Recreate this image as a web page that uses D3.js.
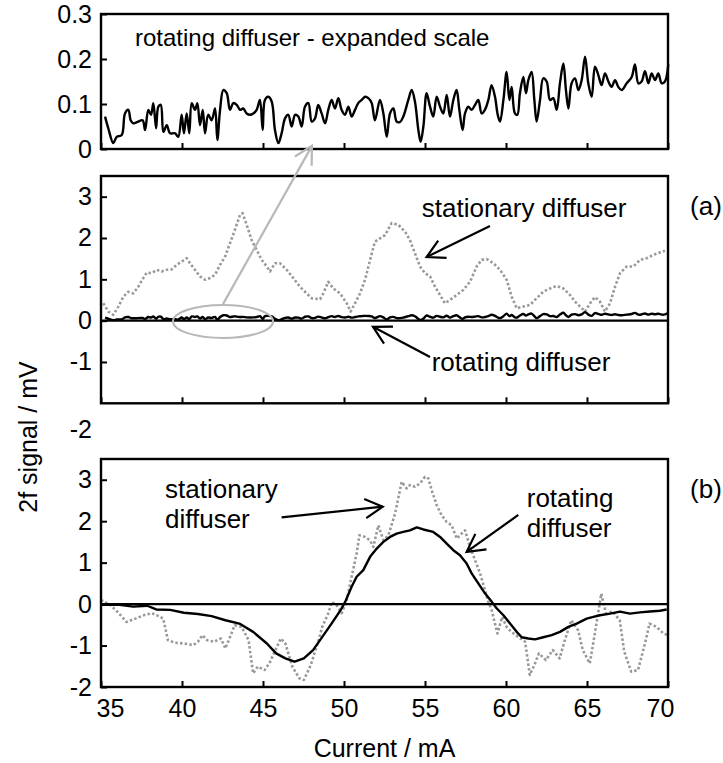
<!DOCTYPE html>
<html>
<head>
<meta charset="utf-8">
<script src="https://cdn.jsdelivr.net/npm/d3@7"></script>
<style>
body { margin:0; background:#fff; }
</style>
</head>
<body>
<div id="chart"></div>
<script>
// rotating diffuser (expanded scale, top panel; also the black trace in panel a)
var rotI = [35.25,35.45,35.76,35.97,36.28,36.48,36.69,36.83,36.99,37.30,37.57,37.72,37.92,38.09,38.23,38.40,38.54,38.69,38.85,39.06,
  39.26,39.57,39.77,39.98,40.12,40.29,40.45,40.60,40.80,40.95,41.11,41.28,41.42,41.62,41.83,42.04,42.18,42.35,42.55,42.76,
  42.96,43.17,43.38,43.58,43.78,43.99,44.20,44.40,44.61,44.81,44.98,45.12,45.33,45.54,45.74,45.95,46.15,46.36,46.56,46.77,
  46.98,47.18,47.39,47.59,47.80,48.01,48.21,48.41,48.62,48.83,49.03,49.24,49.44,49.65,49.85,50.06,50.27,50.47,50.68,50.88,
  51.09,51.30,51.50,51.71,51.91,52.22,52.43,52.64,52.84,53.05,53.25,53.46,53.66,53.97,54.18,54.38,54.59,54.73,54.90,55.10,
  55.31,55.51,55.72,55.93,56.13,56.34,56.54,56.75,56.95,57.12,57.32,57.47,57.67,57.88,58.09,58.29,58.50,58.70,58.91,59.11,
  59.32,59.49,59.63,59.84,60.04,60.21,60.35,60.55,60.70,60.86,61.07,61.23,61.38,61.58,61.75,61.89,62.10,62.30,62.51,62.72,
  62.92,63.13,63.33,63.54,63.70,63.85,64.05,64.26,64.47,64.67,64.88,65.08,65.29,65.49,65.70,65.90,66.11,66.32,66.52,66.73,
  66.93,67.14,67.45,67.76,67.96,68.17,68.37,68.58,68.79,68.99,69.20,69.40,69.61,69.81,70.02];
var rotV = [0.072,0.046,0.013,0.027,0.031,0.079,0.087,0.064,0.057,0.061,0.064,0.042,0.087,0.076,0.102,0.046,0.094,0.098,0.038,0.053,
  0.035,0.035,0.027,0.076,0.035,0.079,0.035,0.102,0.087,0.102,0.053,0.087,0.035,0.076,0.064,0.090,0.020,0.087,0.131,0.124,
  0.087,0.102,0.098,0.087,0.090,0.079,0.076,0.079,0.087,0.109,0.042,0.109,0.116,0.105,0.042,0.013,0.035,0.068,0.076,0.050,
  0.076,0.072,0.050,0.094,0.102,0.061,0.068,0.098,0.079,0.057,0.087,0.109,0.090,0.113,0.087,0.076,0.094,0.072,0.087,0.102,
  0.109,0.116,0.113,0.102,0.064,0.109,0.079,0.027,0.079,0.090,0.061,0.060,0.072,0.109,0.131,0.105,0.042,0.016,0.050,0.124,
  0.094,0.072,0.116,0.094,0.079,0.120,0.072,0.109,0.131,0.087,0.042,0.079,0.094,0.087,0.098,0.109,0.079,0.087,0.109,0.142,
  0.116,0.076,0.061,0.109,0.171,0.109,0.138,0.079,0.076,0.124,0.160,0.124,0.153,0.171,0.109,0.061,0.109,0.157,0.150,0.109,
  0.113,0.087,0.146,0.190,0.131,0.090,0.146,0.157,0.131,0.153,0.205,0.146,0.116,0.183,0.164,0.142,0.168,0.150,0.138,0.153,
  0.138,0.131,0.146,0.160,0.188,0.146,0.150,0.173,0.146,0.168,0.153,0.168,0.146,0.150,0.188];

// (a) stationary diffuser
var statAI = [35.14,35.45,35.76,36.07,36.38,36.69,36.99,37.30,37.61,37.82,38.13,38.44,38.75,39.06,39.36,39.67,39.98,40.29,40.49,40.80,
  41.11,41.42,41.73,42.04,42.35,42.66,42.96,43.27,43.58,43.74,43.99,44.30,44.61,44.92,45.23,45.43,45.74,46.05,46.46,46.87,
  47.28,47.69,48.01,48.52,48.72,49.03,49.34,49.75,50.17,50.41,50.68,50.99,51.30,51.61,51.91,52.22,52.53,52.94,53.35,53.77,
  54.07,54.38,54.69,55.00,55.31,55.62,55.93,56.23,56.54,56.95,57.36,57.78,58.19,58.50,58.81,59.22,59.63,60.04,60.35,60.66,
  61.07,61.48,61.89,62.30,62.72,63.13,63.54,63.95,64.26,64.57,64.88,65.19,65.49,65.80,66.11,66.42,66.73,67.04,67.45,67.86,
  68.27,68.68,69.09,69.50,69.81];
var statAV = [0.42,0.22,0.14,0.34,0.58,0.70,0.66,0.82,1.03,1.16,1.15,1.23,1.19,1.23,1.24,1.35,1.43,1.51,1.39,1.23,
  1.07,0.99,1.03,1.11,1.35,1.55,1.87,2.20,2.56,2.60,2.32,1.95,1.71,1.47,1.31,1.19,1.39,1.39,1.23,1.03,
  0.82,0.66,0.54,0.52,0.66,0.94,0.78,0.66,0.42,0.22,0.42,0.66,0.99,1.47,1.91,1.99,2.07,2.36,2.32,2.15,
  1.95,1.63,1.31,1.15,1.07,0.82,0.62,0.42,0.50,0.62,0.74,0.94,1.31,1.47,1.49,1.39,1.23,0.99,0.58,0.30,
  0.34,0.38,0.54,0.70,0.78,0.84,0.78,0.62,0.46,0.34,0.22,0.42,0.57,0.46,0.22,0.42,0.82,1.15,1.31,1.31,
  1.47,1.51,1.59,1.65,1.69];

// (b) rotating diffuser
var rotBI = [35.00,36.14,36.99,37.85,38.41,39.27,40.12,40.98,41.83,42.68,43.54,44.39,45.24,45.81,46.38,46.95,47.52,48.09,48.66,49.23,
  49.80,50.08,50.47,50.78,51.19,51.61,52.02,52.43,52.84,53.25,53.66,54.07,54.49,54.90,55.51,55.93,56.34,56.75,57.16,57.57,
  57.88,58.29,58.70,59.11,59.42,59.84,60.25,60.66,60.97,61.38,61.79,62.30,62.82,63.33,63.85,64.36,64.98,65.39,65.80,66.42,
  67.04,67.65,68.27,68.89,69.50,69.92];
var rotBV = [-0.02,-0.02,-0.06,-0.04,-0.13,-0.14,-0.21,-0.24,-0.29,-0.39,-0.47,-0.67,-0.95,-1.19,-1.31,-1.39,-1.31,-1.11,-0.79,-0.47,
  -0.14,0.06,0.42,0.66,0.82,1.14,1.34,1.50,1.62,1.70,1.74,1.78,1.85,1.80,1.74,1.62,1.46,1.30,1.18,0.98,
  0.74,0.50,0.26,0.06,-0.10,-0.27,-0.47,-0.67,-0.80,-0.83,-0.85,-0.80,-0.75,-0.67,-0.55,-0.47,-0.35,-0.31,-0.27,-0.23,
  -0.18,-0.23,-0.20,-0.18,-0.16,-0.13];

// (b) stationary diffuser
var statBI = [35.00,35.57,36.00,36.57,37.13,37.70,38.13,38.56,38.84,39.13,39.55,40.12,40.69,40.98,41.26,41.55,41.97,42.40,42.68,42.97,
  43.25,43.68,44.11,44.39,44.68,45.10,45.39,45.67,46.10,46.38,46.81,47.24,47.52,47.95,48.37,48.66,49.03,49.24,49.55,49.86,
  50.17,50.47,50.78,50.95,51.30,51.60,51.81,52.12,52.43,52.74,53.15,53.56,53.87,54.07,54.38,54.69,55.00,55.21,55.41,55.72,
  56.03,56.34,56.65,56.96,57.26,57.47,57.78,58.09,58.40,58.70,58.91,59.11,59.47,59.76,60.04,60.33,60.75,61.18,61.47,61.75,
  62.03,62.46,62.89,63.31,63.60,64.03,64.45,64.74,65.17,65.45,65.88,66.17,66.59,67.02,67.30,67.73,68.15,68.58,68.86,69.29,
  69.72,70.00];
var statBV = [0.10,-0.02,-0.18,-0.43,-0.35,-0.26,-0.22,-0.29,-0.35,-0.87,-0.93,-0.95,-0.99,-0.91,-0.75,-0.87,-0.91,-0.83,-1.07,-0.79,
  -0.51,-0.55,-0.87,-1.67,-1.51,-1.59,-1.43,-1.19,-0.83,-0.95,-1.51,-1.79,-1.83,-1.47,-0.95,-0.55,-0.22,0.05,-0.03,-0.22,
  0.10,0.66,1.22,1.66,1.62,1.54,1.38,1.90,1.54,1.66,2.18,2.95,2.79,2.87,2.83,2.91,3.07,3.03,2.75,2.39,
  2.14,1.98,1.90,1.58,1.70,1.78,1.38,1.06,0.74,0.34,0.05,-0.14,-0.71,-0.31,-0.55,-0.67,-0.79,-0.91,-1.71,-1.47,
  -1.19,-1.35,-1.11,-1.31,-0.91,-0.39,-0.63,-1.11,-1.43,-0.79,0.25,-0.22,-0.18,-0.39,-1.15,-1.63,-1.59,-0.95,-0.47,-0.55,
  -0.71,-0.75];

var xTicks = [35,40,45,50,55,60,65,70];
var topTicks = [0,0.1,0.2,0.3];
var midTicks = [-1,0,1,2,3];
var botTicks = [-2,-1,0,1,2,3];

var width = 723, height = 763,
    font = "Arial, 'Liberation Sans', sans-serif",
    grey = "#999999",
    lightGrey = "#b8b8b8";

var x = d3.scaleLinear().domain([35, 70]).range([101, 668]);
var yTop = d3.scaleLinear().domain([0, 0.3]).range([149, 14]);
var yMid = d3.scaleLinear().domain([-2, 3.5]).range([403.3, 176]);
var yBot = d3.scaleLinear().domain([-2, 3.5]).range([687, 459]);

var svg = d3.select('#chart').append('svg')
    .attr('width', width)
    .attr('height', height)
    .style('font-family', font);

function series(I, V) {
    return I.map(function(d, i){ return [d, V[i]]; });
}

function drawLine(y, data, color, w, dash, curve) {
    var line = d3.line().x(function(d){ return x(d[0]); }).y(function(d){ return y(d[1]); })
        .curve(curve || d3.curveLinear);
    svg.append('path')
        .datum(data)
        .attr('d', line)
        .attr('fill', 'none')
        .attr('stroke', color)
        .attr('stroke-width', w)
        .attr('stroke-linejoin', 'round')
        .attr('stroke-dasharray', dash || null);
}

function panelAxes(y, yVals, fmt, showX) {
    var yAx = svg.append('g')
        .attr('transform', 'translate(' + x.range()[0] + ',0)')
        .call(d3.axisLeft(y).tickValues(yVals).tickSizeInner(-6).tickSizeOuter(0).tickPadding(9).tickFormat(fmt));
    var xAx = svg.append('g')
        .attr('transform', 'translate(0,' + y.range()[0] + ')')
        .call(d3.axisBottom(x).tickValues(xTicks).tickSizeInner(-6).tickSizeOuter(0).tickPadding(12)
            .tickFormat(showX ? function(d){ return d; } : ''));
    [yAx, xAx].forEach(function(a){
        a.select('.domain').remove();
        a.attr('font-size', 25).attr('font-family', font);
        a.selectAll('line').attr('stroke', '#000').attr('stroke-width', 2);
        a.selectAll('text').attr('fill', '#000');
    });
    if (showX) {
        xAx.selectAll('.tick text').attr('dx', function(d){ return d == 35 ? 9 : (d == 70 ? -8 : 0); });
    }
    svg.append('rect')
        .attr('x', x.range()[0]).attr('y', y.range()[1])
        .attr('width', x.range()[1] - x.range()[0])
        .attr('height', y.range()[0] - y.range()[1])
        .attr('fill', 'none').attr('stroke', '#000').attr('stroke-width', 2.4);
}

function zeroLine(y) {
    svg.append('line')
        .attr('x1', x(35)).attr('x2', x(70))
        .attr('y1', y(0)).attr('y2', y(0))
        .attr('stroke', '#000').attr('stroke-width', 2.2);
}

function arrow(x1, y1, x2, y2, color) {
    var ang = Math.atan2(y2 - y1, x2 - x1), L = 20, a = 0.5;
    svg.append('line')
        .attr('x1', x1).attr('y1', y1).attr('x2', x2).attr('y2', y2)
        .attr('stroke', color).attr('stroke-width', 2.2);
    svg.append('path')
        .attr('d', 'M' + (x2 - L*Math.cos(ang - a)) + ',' + (y2 - L*Math.sin(ang - a)) +
                   'L' + x2 + ',' + y2 +
                   'L' + (x2 - L*Math.cos(ang + a)) + ',' + (y2 - L*Math.sin(ang + a)))
        .attr('fill', 'none').attr('stroke', color).attr('stroke-width', 2.2);
}

function label(txt, px, py, size) {
    svg.append('text')
        .attr('x', px).attr('y', py)
        .attr('font-size', size || 26)
        .attr('fill', '#000')
        .text(txt);
}

var fmt = function(d){ return String(d); };

// top panel - expanded
drawLine(yTop, series(rotI, rotV), '#000', 2.4, null, d3.curveCatmullRom);
panelAxes(yTop, topTicks, fmt, false);
label('rotating diffuser - expanded scale', x(37.1), yTop(0.229), 24);

// panel (a)
drawLine(yMid, series(statAI, statAV), grey, 2.6, '2.5,2.2');
zeroLine(yMid);
drawLine(yMid, series(rotI, rotV), '#000', 2.4, null, d3.curveCatmullRom);
panelAxes(yMid, midTicks, fmt, false);
// stray -2 label between the panels
svg.append('text')
    .attr('x', x(35) - 9).attr('y', yMid(-2) + 27).attr('dy', '0.32em')
    .attr('font-size', 25).attr('text-anchor', 'end').attr('fill', '#000')
    .text('-2');
label('stationary diffuser', x(54.8), yMid(2.51));
label('rotating diffuser', x(55.41), yMid(-1.22));
label('(a)', x(71.36), yMid(2.56));
arrow(x(59.01), yMid(2.29), x(55.10), yMid(1.54), '#000');
arrow(x(55.31), yMid(-0.88), x(51.79), yMid(-0.15), '#000');

// ellipse + grey arrow up to the expanded view
svg.append('ellipse')
    .attr('cx', x(42.53)).attr('cy', yMid(-0.02))
    .attr('rx', x(45.62) - x(42.53)).attr('ry', yMid(0) - yMid(0.40))
    .attr('fill', 'none').attr('stroke', lightGrey).attr('stroke-width', 2);
arrow(x(42.53), yMid(0.40), x(48.02), yTop(0.007), lightGrey);

// panel (b)
drawLine(yBot, series(statBI, statBV), grey, 2.6, '2.5,2.2');
zeroLine(yBot);
drawLine(yBot, series(rotBI, rotBV), '#000', 2.4);
panelAxes(yBot, botTicks, fmt, true);
label('stationary', x(38.95), yBot(2.56));
label('diffuser', x(38.95), yBot(1.83));
label('rotating', x(61.28), yBot(2.34));
label('diffuser', x(61.28), yBot(1.62));
label('(b)', x(71.36), yBot(2.56));
arrow(x(46.15), yBot(2.09), x(52.39), yBot(2.35), '#000');
arrow(x(60.76), yBot(2.15), x(57.57), yBot(1.26), '#000');

// axis titles
svg.append('text')
    .attr('x', (x(35) + x(70)) / 2).attr('y', 757)
    .attr('font-size', 25).attr('text-anchor', 'middle').attr('fill', '#000')
    .text('Current / mA');
svg.append('text')
    .attr('transform', 'translate(37,437) rotate(-90)')
    .attr('font-size', 25).attr('text-anchor', 'middle').attr('fill', '#000')
    .text('2f signal / mV');
</script>
</body>
</html>
